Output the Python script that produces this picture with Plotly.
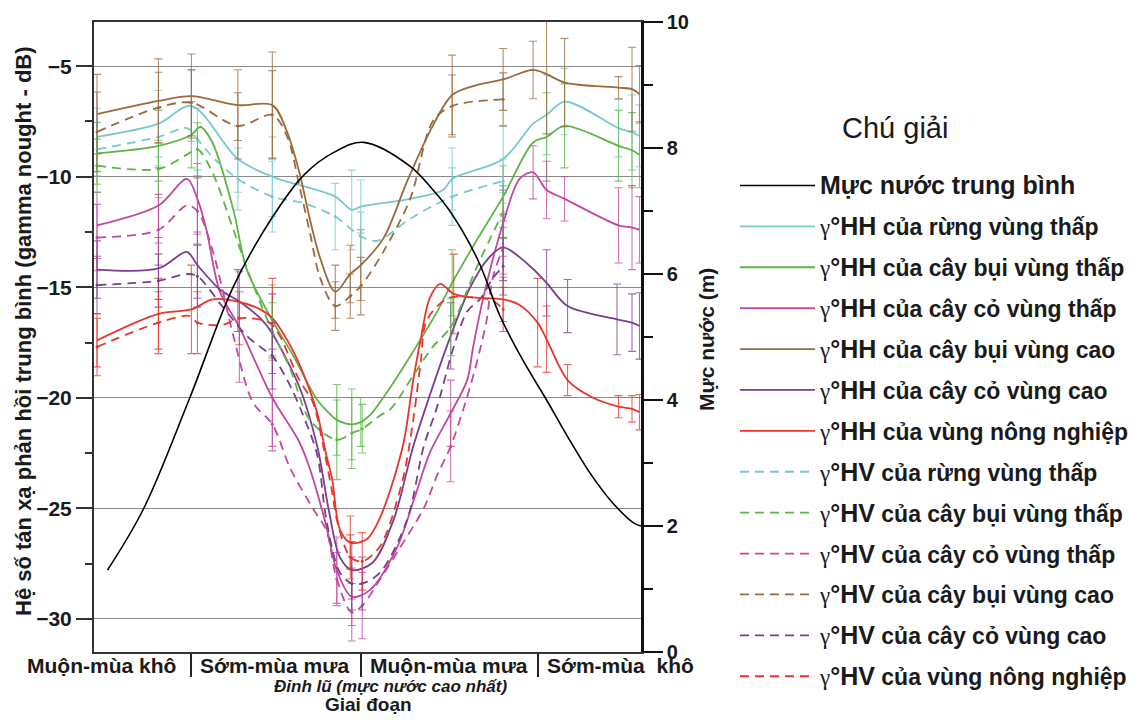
import plotly.graph_objects as go

N = None

# ---------------- data (x = day of hydrological year, 0-365) ----------------
level_day = [9, 33, 64, 93, 119, 140, 160, 180, 211, 226, 238, 256, 271, 286, 302, 316, 331, 346, 360, 365]
level_m = [1.3, 2.27, 4.04, 5.8, 6.9, 7.57, 7.93, 8.09, 7.71, 7.34, 6.98, 6.23, 5.33, 4.64, 4.0, 3.42, 2.84, 2.37, 2.05, 2.0]

# lowland forest (cyan)
cy_hh_d = [2, 43, 65, 96, 119, 161, 172, 178, 211, 233, 239, 273, 293, 302, 314, 350, 359, 364]
cy_hh_v = [-8.2, -7.6, -6.8, -9.2, -10.0, -10.9, -11.5, -11.35, -11.0, -10.6, -10.1, -9.2, -7.6, -7.2, -6.6, -7.8, -8.0, -8.15]
cy_hh_e = [1.3, 1.5, 1.6, 1.5, 1.8, N, 1.8, 1.2, N, N, 1.4, 1.5, N, 1.8, 1.5, 1.3, 1.7, 1.4]
cy_hv_d = [2, 43, 62, 69, 79, 96, 119, 140, 161, 172, 178, 189, 211, 239, 273]
cy_hv_v = [-8.76, -8.2, -7.8, -8.3, -9.1, -10.1, -10.9, -11.2, -11.8, -12.4, -12.7, -12.9, -11.9, -10.9, -10.2]
cy_hv_e = [1.2, 1.3, N, 1.4, N, 1.4, 1.6, N, 1.5, N, 1.1, N, N, 1.3, 1.0]

# lowland shrub (green)
gr_hh_d = [2, 43, 65, 71, 79, 93, 102, 119, 133, 149, 157, 162, 172, 178, 184, 198, 213, 229, 239, 256, 273, 293, 302, 314, 350, 359, 364]
gr_hh_v = [-8.94, -8.6, -8.1, -7.75, -8.45, -11.5, -14.2, -16.5, -18.1, -20.1, -20.7, -21.0, -21.2, -21.1, -20.8, -19.5, -17.9, -16.1, -14.8, -12.8, -10.9, -8.45, -8.2, -7.7, -8.6, -8.8, -9.0]
gr_hh_e = [1.4, 1.6, 1.5, N, N, N, N, 1.6, N, N, N, 1.6, 1.6, 1.1, N, N, N, N, 1.5, N, 1.4, N, 2.0, 1.9, 1.6, 1.7, 1.5]
gr_hv_d = [2, 43, 62, 69, 79, 93, 104, 119, 131, 144, 162, 172, 179, 191, 198, 213, 226, 238, 256, 273]
gr_hv_v = [-9.5, -9.65, -9.0, -8.76, -9.8, -12.4, -14.5, -17.0, -18.7, -21.0, -21.9, -21.6, -21.4, -20.8, -20.5, -19.0, -17.7, -16.8, -14.0, -11.6]
gr_hv_e = [1.2, 1.3, N, 1.2, N, N, N, 1.3, N, N, 1.8, 1.6, 1.1, N, N, N, N, 1.3, N, 1.2]

# lowland grass (magenta)
mg_hh_d = [2, 43, 62, 69, 75, 84, 97, 119, 137, 144, 155, 162, 172, 184, 202, 214, 224, 238, 249, 253, 260, 273, 284, 293, 302, 314, 350, 359, 364]
mg_hh_v = [-12.2, -11.3, -10.1, -11.0, -12.4, -15.2, -16.8, -20.0, -22.0, -23.2, -25.8, -27.8, -29.0, -28.7, -26.8, -24.5, -22.5, -20.7, -19.2, -17.7, -15.4, -12.1, -10.1, -9.8, -10.6, -11.0, -12.2, -12.3, -12.4]
mg_hh_e = [1.5, 1.7, N, 1.6, N, N, 2.5, 2.2, N, N, N, 1.5, 1.3, N, N, N, N, 1.5, N, N, N, 1.5, N, 1.2, 1.3, 1.0, 1.7, 1.9, 1.5]
mg_hv_d = [2, 43, 62, 69, 79, 93, 106, 119, 131, 146, 155, 162, 172, 179, 191, 204, 220, 229, 238, 251, 258, 262, 266, 273]
mg_hv_v = [-12.75, -12.4, -11.3, -11.55, -13.3, -17.2, -20.2, -21.2, -23.2, -25.0, -26.0, -28.2, -29.7, -29.4, -28.2, -26.8, -25.0, -23.5, -22.2, -19.5, -17.7, -16.5, -14.6, -13.2]
mg_hv_e = [1.5, 1.6, N, 1.5, N, N, N, 1.2, N, N, N, 1.2, 1.3, 1.5, N, N, N, N, 1.6, N, N, N, N, 1.2]

# upland shrub (brown)
br_hh_d = [2, 43, 65, 96, 119, 129, 137, 144, 151, 161, 171, 178, 193, 209, 226, 239, 253, 273, 293, 302, 314, 350, 359, 364]
br_hh_v = [-7.17, -6.57, -6.35, -6.76, -6.76, -8.0, -9.8, -11.9, -13.7, -15.2, -14.4, -14.0, -12.8, -10.2, -7.7, -6.3, -5.9, -5.6, -5.17, -5.36, -5.74, -5.97, -6.04, -6.27]
br_hh_e = [1.8, 1.9, 1.9, 1.6, 2.4, N, N, N, N, 1.2, 1.3, 1.6, N, N, N, 1.8, N, 1.4, 1.3, 2.7, 2.0, 0.5, 1.9, 1.3]
br_hv_d = [2, 43, 65, 96, 119, 129, 137, 144, 151, 161, 171, 178, 193, 211, 226, 239, 273]
br_hv_v = [-7.97, -6.87, -6.65, -7.7, -7.2, -8.2, -10.4, -12.5, -14.6, -15.85, -15.4, -14.95, -13.4, -11.0, -7.5, -6.8, -6.5]
br_hv_e = [1.8, 1.6, 1.5, 1.5, 2.0, N, N, N, N, 1.1, 1.0, 1.3, N, N, N, 1.4, 1.2]

# upland grass (purple)
pu_hh_d = [2, 43, 62, 69, 84, 96, 111, 119, 137, 149, 157, 164, 172, 186, 200, 213, 224, 238, 251, 263, 273, 291, 302, 316, 349, 359, 364]
pu_hh_v = [-14.2, -14.15, -13.4, -14.0, -15.1, -15.6, -16.4, -17.1, -19.5, -22.2, -25.2, -27.2, -27.8, -27.45, -25.5, -22.2, -19.9, -17.2, -15.0, -13.7, -13.2, -14.05, -14.8, -15.85, -16.45, -16.6, -16.75]
pu_hh_e = [1.3, 1.4, N, 1.5, N, 1.4, N, 1.8, N, N, N, N, 1.3, N, N, N, N, 1.5, N, N, 1.5, N, 1.5, 1.2, 1.6, 1.3, 1.5]
pu_hv_d = [2, 43, 62, 69, 86, 102, 115, 119, 129, 139, 149, 155, 164, 172, 179, 191, 209, 220, 229, 240, 249, 258, 266, 273]
pu_hv_v = [-14.9, -14.7, -14.4, -14.5, -15.9, -17.2, -17.9, -18.1, -19.2, -20.7, -22.6, -25.5, -27.9, -28.4, -28.4, -27.9, -25.5, -22.2, -20.4, -17.7, -16.1, -15.5, -14.6, -14.05]
pu_hv_e = [1.3, 1.2, N, 1.4, N, N, N, 1.5, N, N, N, N, N, 1.2, 1.2, N, N, N, N, N, N, N, N, 1.3]

# agriculture (red)
rd_hh_d = [2, 43, 65, 79, 93, 111, 119, 133, 142, 149, 155, 159, 164, 171, 182, 191, 206, 213, 218, 224, 231, 240, 251, 273, 284, 296, 302, 316, 333, 350, 359, 364]
rd_hh_v = [-17.4, -16.2, -16.0, -15.55, -15.6, -16.0, -16.4, -17.9, -19.3, -20.7, -22.6, -23.7, -25.95, -26.55, -26.4, -25.4, -22.2, -19.2, -17.35, -15.5, -14.85, -15.3, -15.45, -15.55, -15.8, -16.6, -17.35, -19.2, -20.0, -20.4, -20.5, -20.65]
rd_hh_e = [1.2, 1.6, 2.0, N, N, N, 1.8, N, N, N, N, N, N, 1.2, N, N, N, N, N, N, N, 1.8, N, 1.0, N, 2.0, 1.5, 0.7, N, 0.5, 0.6, 0.8]
rd_hv_d = [2, 43, 64, 69, 86, 97, 117, 124, 137, 146, 153, 159, 162, 171, 179, 191, 206, 213, 218, 222, 236, 251, 266, 273]
rd_hv_v = [-17.7, -16.6, -16.3, -16.6, -16.7, -16.4, -16.6, -17.2, -19.2, -20.2, -22.2, -24.3, -25.5, -27.2, -27.4, -26.7, -23.7, -21.0, -18.4, -16.5, -15.5, -15.45, -15.6, -16.0]
rd_hv_e = [1.3, 1.4, N, 1.4, N, 1.2, N, N, N, N, N, N, N, 1.0, 1.3, N, N, N, N, N, N, N, N, 1.0]

classes = ["rừng vùng thấp", "cây bụi vùng thấp", "cây cỏ vùng thấp",
           "cây bụi vùng cao", "cây cỏ vùng cao", "vùng nông nghiệp"]
phase_labels = ["Muộn-mùa khô", "Sớm-mùa mưa", "Muộn-mùa mưa", "Sớm-mùa\u00a0\u00a0khô"]
phase_bounds = [65, 178, 296]
left_ticks = [-30, -25, -20, -15, -10, -5]
right_ticks = [0, 2, 4, 6, 8, 10]

# ---------------- styling ----------------
colors = ["#78c8cf", "#5cb545", "#c2479d", "#9a6a3d", "#7b3d8e", "#e8352e"]
FONT = "Liberation Sans, Arial, sans-serif"
TXT = "#1a1a1a"

hh = [(cy_hh_d, cy_hh_v, cy_hh_e), (gr_hh_d, gr_hh_v, gr_hh_e), (mg_hh_d, mg_hh_v, mg_hh_e),
      (br_hh_d, br_hh_v, br_hh_e), (pu_hh_d, pu_hh_v, pu_hh_e), (rd_hh_d, rd_hh_v, rd_hh_e)]
hv = [(cy_hv_d, cy_hv_v, cy_hv_e), (gr_hv_d, gr_hv_v, gr_hv_e), (mg_hv_d, mg_hv_v, mg_hv_e),
      (br_hv_d, br_hv_v, br_hv_e), (pu_hv_d, pu_hv_v, pu_hv_e), (rd_hv_d, rd_hv_v, rd_hv_e)]


def rgba(hexc, a):
    h = hexc.lstrip("#")
    return "rgba(%d,%d,%d,%.2f)" % (int(h[0:2], 16), int(h[2:4], 16), int(h[4:6], 16), a)


def label(pol, cls):
    return ("<b><span style='font-family:Liberation Serif;font-weight:normal'>γ</span>"
            "<span style='font-size:25px'>°%s</span> của %s</b>" % (pol, cls))


fig = go.Figure()

fig.add_trace(go.Scatter(x=level_day, y=level_m, yaxis="y2", mode="lines",
                         line=dict(color="black", width=1.6, shape="spline"),
                         name="<b><span style='font-size:25px'>Mực nước trung bình</span></b>",
                         legendgroup="lvl"))

groups = [("HH", hh, "solid"), ("HV", hv, "9px,6px")]
for pol, data, dash in groups:
    for i, (d, v, e) in enumerate(data):
        c = colors[i]
        g = pol + str(i)
        idx = [k for k in range(len(d)) if e[k] is not None]
        fig.add_trace(go.Scatter(x=[d[k] for k in idx], y=[v[k] for k in idx], mode="markers",
                                 marker=dict(size=3, color=c, opacity=1 if pol == "HV" else 0),
                                 error_y=dict(type="data", array=[e[k] for k in idx], visible=True,
                                              color=rgba(c, 0.75), thickness=1.1, width=4),
                                 showlegend=False, legendgroup=g, hoverinfo="skip"))
        fig.add_trace(go.Scatter(x=d, y=v, mode="lines",
                                 line=dict(color=c, width=1.8, dash=dash, shape="spline", smoothing=0.9),
                                 name=label(pol, classes[i]), legendgroup=g))

# ---------------- layout (positions given in page pixels; page body has 8px margin) ----------------
BODY = 8
PAGE_W, PAGE_H = 1142, 722
L, R, T, B = 94, 641, 22, 652
W, H = R - L, B - T
ITEMW = 75


def px(xp):
    return (xp - L) / W


def py(yp):
    return (B - yp) / H


def note(text, xc, yc, size, angle=0):
    return dict(text=text, x=px(xc), y=py(yc), xref="paper", yref="paper", showarrow=False,
                textangle=angle, font=dict(size=size, family=FONT, color=TXT),
                xanchor="center", yanchor="middle")


ann = []
for lab, xc in zip(phase_labels, [101, 274, 449, 620]):
    ann.append(note("<b>%s</b>" % lab, xc, 665, 21))
ann.append(note("<b><i>Đỉnh lũ (mực nước cao nhất)</i></b>", 390, 686, 17))
ann.append(note("<b>Giai đoạn</b>", 368, 704, 19))
ann.append(note("<b>Hệ số tán xạ phản hồi trung bình (gamma nought - dB)</b>", 23, 331, 22, angle=-90))
ann.append(note("<b>Mực nước (m)</b>", 706, 340, 21, angle=-90))
ann.append(note("Chú giải", 895, 128, 29))

fig.update_layout(
    width=PAGE_W - 2 * BODY, height=PAGE_H - 2 * BODY,
    margin=dict(l=L - BODY, r=PAGE_W - BODY - R, t=T - BODY, b=PAGE_H - BODY - B, autoexpand=False),
    paper_bgcolor="white", plot_bgcolor="white",
    font=dict(family=FONT, color=TXT),
    showlegend=True,
    legend=dict(x=px(820 - ITEMW - 10), xref="paper", xanchor="left",
                y=py(164), yref="paper", yanchor="top",
                font=dict(size=23, family=FONT, color=TXT),
                tracegroupgap=8, itemwidth=ITEMW, bgcolor="rgba(0,0,0,0)"),
    xaxis=dict(range=[0, 365], showgrid=False, zeroline=False, tickvals=phase_bounds,
               ticks="outside", ticklen=23, tickwidth=1.5, tickcolor="#222",
               showticklabels=False, showline=True, linecolor="#333", linewidth=2, mirror=True),
    yaxis=dict(range=[-31.5, -3], tickvals=left_ticks, ticks="outside", ticklen=16,
               tickwidth=1.5, tickcolor="#333",
               minor=dict(dtick=2.5, tick0=-30, ticks="outside", ticklen=7, tickcolor="#333", showgrid=False),
               showgrid=True, gridcolor="#8a8a8a", gridwidth=1.2, zeroline=False,
               showline=True, linecolor="#333", linewidth=2,
               tickfont=dict(size=21, family=FONT, color=TXT, weight="bold")),
    yaxis2=dict(range=[0, 10], overlaying="y", side="right", tickvals=right_ticks, ticks="outside",
                ticklen=19, tickwidth=1.8, tickcolor="#111",
                minor=dict(dtick=1, ticks="outside", ticklen=9, tickcolor="#111"),
                showgrid=False, zeroline=False, showline=True, linecolor="#111", linewidth=2.5,
                tickfont=dict(size=20, family=FONT, color=TXT, weight="bold")),
    annotations=ann,
)

fig.write_html("out.html")
